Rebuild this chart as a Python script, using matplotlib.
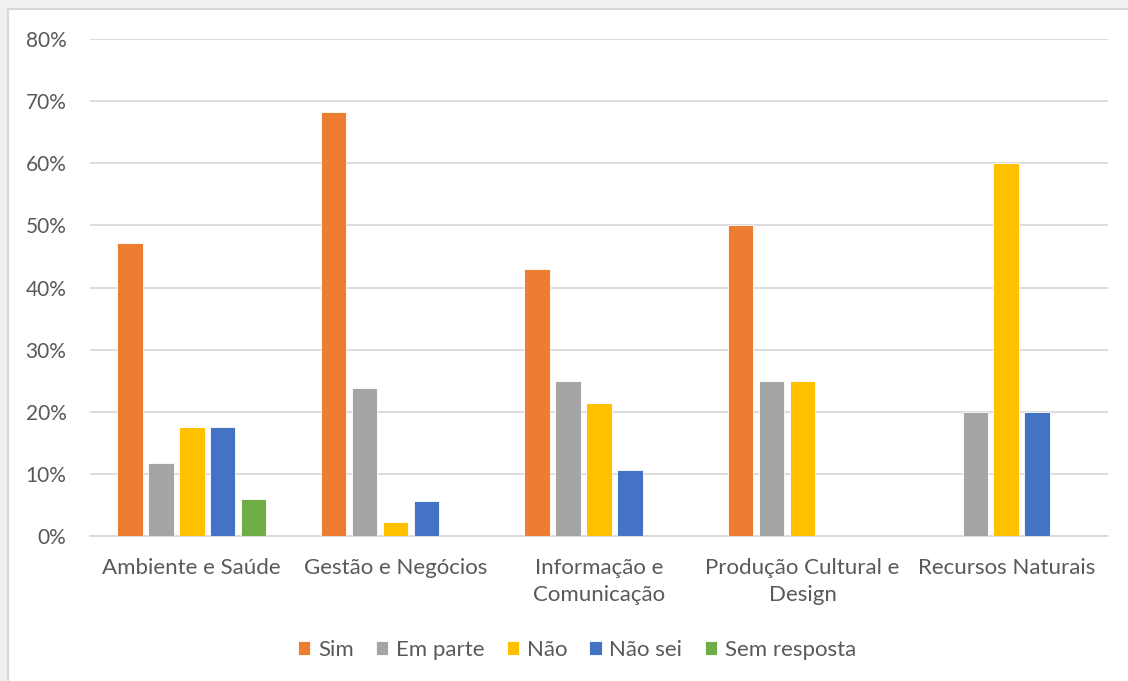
import numpy as np
import matplotlib.pyplot as plt
from matplotlib.patches import Rectangle
from matplotlib.ticker import PercentFormatter

plt.rcParams['font.family'] = ['Lato', 'DejaVu Sans']

categories = ["Ambiente e Saúde", "Gestão e Negócios", "Informação e\nComunicação",
              "Produção Cultural e\nDesign", "Recursos Naturais"]
series = ["Sim", "Em parte", "Não", "Não sei", "Sem resposta"]
sim = [47.1, 68.2, 42.9, 50.0, 0.0]
em_parte = [11.8, 23.9, 25.0, 25.0, 20.0]
nao = [17.6, 2.3, 21.4, 25.0, 60.0]
nao_sei = [17.6, 5.7, 10.7, 0.0, 20.0]
sem_resposta = [5.9, 0.0, 0.0, 0.0, 0.0]
values = [sim, em_parte, nao, nao_sei, sem_resposta]
colors = ["#ED7D31", "#A5A5A5", "#FFC000", "#4472C4", "#70AD47"]

text_color = "#595959"

fig = plt.figure(figsize=(11.28, 6.81), dpi=100)
fig.patch.set_facecolor("#f0f0f0")
fig.patches.append(Rectangle((8 / 1128, -0.01), 1.0, 1 - 9 / 681 + 0.01,
                             transform=fig.transFigure, facecolor="white",
                             edgecolor="#d9d9d9", linewidth=1.5, zorder=-10))

ax = fig.add_axes([90 / 1128, 1 - 536 / 681, 1018 / 1128, 497 / 681])
ax.set_facecolor("none")

x = np.arange(len(categories))
step = 0.152
width = 0.125
for i, (name, vals) in enumerate(zip(series, values)):
    ax.bar(x + (i - 2) * step, vals, width, color=colors[i], label=name,
           edgecolor="white", linewidth=0.6, zorder=3)

ax.set_xlim(-0.5, len(categories) - 0.5)
ax.set_ylim(0, 80)
ax.set_yticks(np.arange(0, 81, 10))
ax.yaxis.set_major_formatter(PercentFormatter(decimals=0))
ax.grid(axis="y", color="#d9d9d9", linewidth=1.3, zorder=0)
ax.set_xticks(x)
ax.set_xticklabels(categories, fontsize=16, color=text_color, linespacing=1.4)
ax.tick_params(axis="y", labelsize=15, labelcolor=text_color, length=0, pad=17)
ax.tick_params(axis="x", length=0, pad=16)
for s in ["top", "right", "left"]:
    ax.spines[s].set_visible(False)
ax.spines["bottom"].set_color("#d9d9d9")
ax.spines["bottom"].set_linewidth(1.3)

fig.legend(loc="center", bbox_to_anchor=(577 / 1128, 1 - 650 / 681), ncol=5, frameon=False,
           fontsize=16, labelcolor=text_color, handlelength=0.55, handleheight=0.55,
           handletextpad=0.35, columnspacing=1.0)

fig.savefig("out.png", dpi=100, facecolor=fig.get_facecolor())
